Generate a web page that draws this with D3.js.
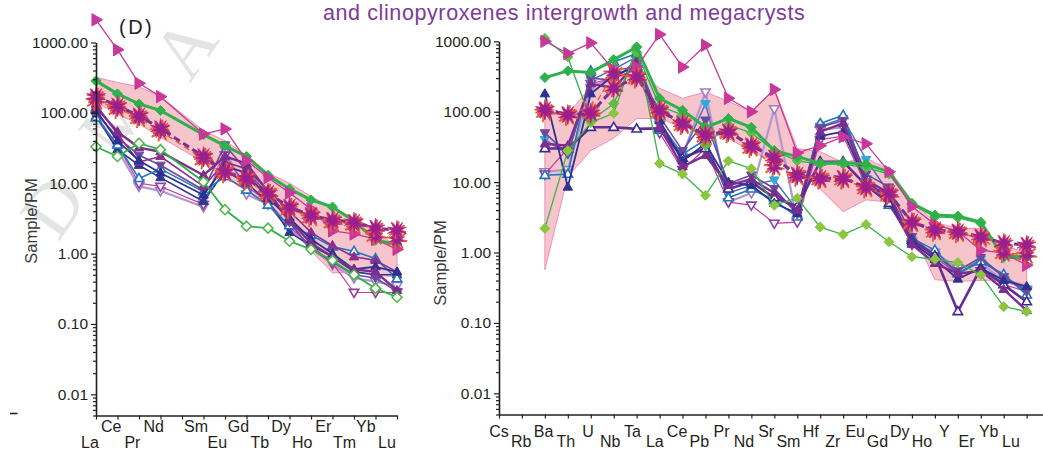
<!DOCTYPE html>
<html>
<head>
<meta charset="utf-8">
<script src="https://cdn.jsdelivr.net/npm/d3@7/dist/d3.min.js"></script>
<style>
  html, body { margin: 0; padding: 0; background: #fff; }
  svg { display: block; font-family: Arial, "Liberation Sans", sans-serif; }
</style>
</head>
<body>
<svg id="chart" width="1043" height="452"></svg>
<script>
// ---------- REE panel (primitive-mantle normalised) ----------
const reeElements = ["La","Ce","Pr","Nd","Sm","Eu","Gd","Tb","Dy","Ho","Er","Tm","Yb","Lu"];
const reeSlots    = [0, 1, 2, 3, 5, 6, 7, 8, 9, 10, 11, 12, 13, 14]; // slot 4 (Pm) left empty
const reeLabelRow = ["low","high","low","high","high","low","high","low","high","low","high","low","high","low"];

const reeMagentaTri   = [2100, 790, 263, 170, 50, 59, 21, 12, 7.3, 4.3, 2.1, 1.9, 1.6, 1.15];
const reeGreenThick   = [285, 186, 134, 108, 49, 34, 24, 13, 8.3, 5.8, 4.6, 2.9, 1.55, 1.36];
const reeGreenOpen    = [33, 24, 37, 30, 10.5, 4.2, 2.45, 2.3, 1.5, 1.15, 0.8, 0.5, 0.32, 0.24];
const reeStarPurple   = [170, 126, 91, 60, 24, 14.6, 11.7, 7.2, 4.6, 3.5, 3.0, 2.8, 2.3, 2.15];
const reeStarOrange   = [150, 115, 85, 55, 22, 14, 11, 7, 4.3, 3.3, 2.8, 2.6, 1.8, 1.6];
const reeBandUpper    = [320, 270, 235, 170, 56, 40, 25, 14, 10, 6.5, 4.5, 3.2, 2.2, 1.2];
const reeBandLower    = [140, 95, 70, 45, 20, 12, 8, 5, 2.4, 1.1, 0.53, 0.55, 0.5, 0.46];
const reeDarkBlue     = [110, 40, 21, 14, 6.8, 17.5, 14, 6.1, 3.2, 1.6, 1.0, 0.6, 0.65, 0.55];
const reeBlueOpen     = [85, 35, 11.7, 16, 7.6, 12.4, 8, 4.9, 2.5, 1.83, 1.25, 1.08, 0.85, 0.44];
const reePurpleFilled = [120, 54, 32, 28, 13, 24, 19, 7.6, 3.0, 1.4, 0.9, 0.6, 0.55, 0.3];
const reeLavenderDown = [95, 30, 9, 7.8, 4.6, 30, 7, 5, 2.2, 1.2, 0.7, 0.45, 0.4, 0.35];
const reeVioletDown   = [100, 45, 25, 18, 8, 35, 15, 7, 2.8, 1.17, 0.76, 0.5, 0.45, 0.29];
const reeNavy         = [90, 30, 18, 12, 5.5, 15, 10, 5.5, 2.0, 1.3, 0.9, 0.55, 0.5, 0.5];
const reePlum         = [130, 50, 20, 24, 9, 20, 16, 8, 4, 2, 1.3, 0.9, 0.8, 0.55];
const reeMagentaDown  = [90, 35, 10, 9, 5, 25, 9, 5.5, 2.4, 1.3, 0.73, 0.28, 0.28, 0.28];

// ---------- trace-element spider panel ----------
const spiderElements = ["Cs","Rb","Ba","Th","U","Nb","Ta","La","Ce","Pb","Pr","Nd","Sr","Sm","Hf","Zr","Eu","Gd","Dy","Ho","Y","Er","Yb","Lu"];

const spMagentaTri   = [null,null,1000, 670, 950, 390, 430, 1250, 430, 880, 155, 100, 207, 26, 33, 44, 35, 14, 4.5, 2.5, 2.0, 1.08, 0.98, 0.66];
const spGreenThick   = [null,null,305, 380, 360, 550, 830, 155, 105, 60, 80, 60, 28, 23, 18.5, 19, 18, 14, 5, 3.4, 3.3, 2.7, 0.85, 0.85];
const spGreenThin    = [null,null,1100, 600, 75, 130, 700, 120, 90, 33, 65, 50, 28, 20, 18, 18, 16, 13, 4.8, 3.2, 3.1, 2.6, 0.9, 0.9];
const spLightGreen   = [null,null,2.2, 28, 70, 95, 830, 18.4, 13, 6.5, 20, 15.5, 4.7, 5.9, 2.3, 1.8, 2.5, 1.42, 0.87, 0.8, 0.72, 0.48, 0.17, 0.145];
const spStarPurple   = [null,null,107, 91, 95, 215, 310, 105, 68, 47, 52, 33, 22, 12.6, 11.3, 11.3, 8.5, 6.9, 2.7, 2.1, 1.97, 1.67, 1.35, 1.28];
const spStarOrange   = [null,null,100, 88, 100, 350, 300, 100, 65, 45, 50, 31, 16.5, 12, 11, 11, 8.2, 6.6, 2.6, 2.0, 1.9, 1.6, 0.99, 0.93];
const spBandUpper    = [null,null,117, 93, 225, 310, 390, 215, 155, 190, 140, 100, 210, 30, 27, 19, 22, 15, 5.5, 2.7, 2.2, 2.2, 1.25, 1.0];
const spBandLower    = [null,null,0.57, 12, 28, 42, 80, 80, 60, 50, 42, 27, 20, 15, 8, 3.8, 5.6, 5.2, 2.1, 0.41, 0.39, 0.4, 0.41, 0.35];
const spDarkBlue     = [null,null,180, 8.5, 180, 330, 430, 75, 20, 35, 10, 9, 5, 3.6, 45, 52, 10, 6, 1.4, 0.8, 0.42, 0.6, 0.4, 0.33];
const spBlueOpen     = [null,null,12.5, 13, 380, 510, 670, 55, 25, 40, 6, 8, 5.5, 3.2, 68, 89, 12, 4.7, 1.6, 1.08, 0.5, 0.74, 0.49, 0.25];
const spPurpleFilled = [null,null,35, 33, 250, 214, 500, 60, 16.6, 24, 9, 11, 7, 4, 52, 68, 10.7, 7, 1.3, 0.7, 0.5, 0.55, 0.3, 0.15];
const spPurpleOpen   = [null,null,30, 30, 60, 60, 57, 58, 22, 30, 8, 10, 6, 4.5, 19.5, 19.5, 9, 5, 1.5, 0.9, 0.145, 0.6, 0.35, 0.2];
const spVioletDown   = [null,null,50, 25, 300, 280, 540, 85, 28, 76, 9.5, 12.6, 8.1, 3.5, 60, 75, 13, 8.5, 1.68, 0.9, 0.55, 0.85, 0.45, 0.28];
const spLavenderDown = [null,null,14, 15, 220, 300, 480, 65, 23, 190, 5.2, 7, 110, 2.8, 55, 60, 11, 6.5, 1.4, 1.0, 0.6, 0.7, 0.4, 0.3];
const spSkyDown      = [null,null,40, 25, 280, 400, 600, 70, 25, 130, 7, 9, 10.7, 4, 62, 80, 21, 7, 1.5, 0.95, 0.5, 0.8, 0.45, 0.3];
const spMagentaDown  = [null,null,13, 30, 250, 300, 400, 50, 15, 30, 5.2, 4.7, 2.6, 2.7, 40, 45, 9, 5, 1.3, 0.85, 0.5, 0.55, 0.35, 0.28];

const yTickValues = [0.01, 0.1, 1, 10, 100, 1000];
const watermarkLetters = ["D", "M", "A"];

// ---------- series appearance ----------
const C = {
  magenta: "#C8379A", green: "#2EB14B", lightGreen: "#8CC63F", purple: "#7B2E8E",
  star: "#9A1F8C", orange: "#F05A28", navy: "#2B3990", blue: "#1F76BC",
  lavender: "#B496CF", violet: "#6B4A9E", plum: "#8E2C8F", sky: "#29ABE2",
  bandFill: "#F6C4CB", bandStroke: "#EE90B6", axis: "#231F20", title: "#7E3A98"
};

function seriesList(p) {
  return [
    { v: p.lavender, color: C.lavender, width: 2.2, marker: "triDown", open: true, mcolor: "#9E7CC4" },
    { v: p.magentaDown, color: C.magenta, width: 1.2, marker: "triDown", open: true, mcolor: "#8E3FA6" },
    { v: p.sky, color: "#4B68B8", width: 1.4, marker: "triDown", open: false, mcolor: C.sky },
    { v: p.navy, color: C.navy, width: 1.6, marker: "triUp", open: false, mcolor: C.navy },
    { v: p.blueOpen, color: C.blue, width: 1.6, marker: "triUp", open: true, mcolor: C.blue },
    { v: p.violet, color: C.violet, width: 1.6, marker: "triDown", open: false, mcolor: C.violet },
    { v: p.plum, color: C.plum, width: 1.6, marker: "triUp", open: false, mcolor: C.plum },
    { v: p.purpleOpen, color: "#662D91", width: 2.6, marker: "triUp", open: true, mcolor: "#3B2C8F" },
    { v: p.darkBlue, color: "#2E3192", width: 1.8, marker: "triUp", open: false, mcolor: "#2E3192" },
    { v: p.purpleFilled, color: C.purple, width: 2.4, marker: "triUp", open: false, mcolor: C.purple },
    { v: p.lightGreen, color: "#37B44A", width: 1.3, marker: "diamond", open: false, mcolor: C.lightGreen, msize: 5 },
    { v: p.greenOpen, color: C.green, width: 1.8, marker: "diamond", open: true, mcolor: "#4DB848", msize: 5 },
    { v: p.greenThin, color: C.green, width: 1.3, marker: "diamond", open: false, mcolor: "#5DBB46", msize: 5 },
    { v: p.greenThick, color: C.green, width: 3, marker: "diamond", open: false, mcolor: C.green, msize: 5 },
    { v: p.magentaTri, color: C.magenta, width: 1.3, marker: "triRight", open: false, mcolor: C.magenta, msize: 6.5 },
    { v: p.starOrange, color: C.orange, width: 1.4, dash: "6,4", marker: "star", orange: true },
    { v: p.starPurple, color: C.purple, width: 3, dash: "7,4", marker: "star" }
  ].filter(s => s.v);
}

// ---------- marker shapes ----------
function markerPath(type, r) {
  switch (type) {
    case "triUp":    return `M0,${-r}L${r*0.95},${r*0.62}L${-r*0.95},${r*0.62}Z`;
    case "triDown":  return `M0,${r}L${r*0.95},${-r*0.62}L${-r*0.95},${-r*0.62}Z`;
    case "triRight": return `M${r},0L${-r*0.62},${-r*0.95}L${-r*0.62},${r*0.95}Z`;
    case "diamond":  return `M0,${-r}L${r},0L0,${r}L${-r},0Z`;
  }
  return "";
}
function starPath(n, ro, ri, rot) {
  let d = "";
  for (let k = 0; k < 2 * n; k++) {
    const r = k % 2 === 0 ? ro : ri;
    const a = rot + Math.PI * k / n;
    d += (k ? "L" : "M") + (r * Math.sin(a)).toFixed(2) + "," + (-r * Math.cos(a)).toFixed(2);
  }
  return d + "Z";
}

const svg = d3.select("#chart");

// faint diagonal watermark letters beneath everything
const wmCentres = [[52, 206], [114, 118], [184, 47]];
svg.append("g").attr("fill", "#E4E4E4")
  .attr("font-family", "'Liberation Serif', 'DejaVu Serif', serif").attr("font-size", 74)
  .selectAll("text").data(watermarkLetters).join("text")
  .attr("transform", (d, i) => `translate(${wmCentres[i][0]},${wmCentres[i][1]}) rotate(-55)`)
  .attr("text-anchor", "middle").attr("dy", "0.35em").text(d => d);

// ---------- generic panel ----------
function drawPanel(cfg) {
  const g = svg.append("g");
  const x = d3.scaleLinear().domain(cfg.xDomain).range(cfg.xRange);
  const y = d3.scaleLog().domain([0.005, 1000]).range(cfg.yRange);
  const slotX = i => x(cfg.slots[i]);

  // shaded envelope
  const band = [];
  cfg.bandUpper.forEach((v, i) => { if (v != null) band.push([slotX(i), y(v)]); });
  for (let i = cfg.bandLower.length - 1; i >= 0; i--) {
    const v = cfg.bandLower[i];
    if (v != null) band.push([slotX(i), y(v)]);
  }
  g.append("path").attr("d", d3.line()(band) + "Z")
    .attr("fill", C.bandFill).attr("stroke", C.bandStroke).attr("stroke-width", 1);

  // series lines + markers
  const line = d3.line().defined(d => d.v != null).x(d => d.x).y(d => y(d.v));
  cfg.series.forEach(s => {
    const pts = s.v.map((v, i) => ({ v, x: slotX(i) }));
    g.append("path").attr("d", line(pts)).attr("fill", "none")
      .attr("stroke", s.color).attr("stroke-width", s.width)
      .attr("stroke-linejoin", "round")
      .attr("stroke-dasharray", s.dash || null);
    const mk = g.append("g");
    pts.filter(p => p.v != null).forEach(p => {
      const t = `translate(${p.x},${y(p.v)})`;
      if (s.marker === "star") {
        const sg = mk.append("g").attr("transform", t);
        const spokes = s.orange ? 10.5 : 9;
        for (let k = 0; k < 8; k++) {
          const a = Math.PI * k / 4 + 0.2;
          sg.append("line").attr("x1", 0).attr("y1", 0)
            .attr("x2", spokes * Math.sin(a)).attr("y2", -spokes * Math.cos(a))
            .attr("stroke", C.orange).attr("stroke-width", 2);
        }
        sg.append("path").attr("d", starPath(10, s.orange ? 8 : 10, 4, 0))
          .attr("fill", C.star).attr("stroke", "#B0268F").attr("stroke-width", 0.6);
      } else {
        const r = s.msize || 5;
        mk.append("path").attr("transform", t).attr("d", markerPath(s.marker, r))
          .attr("fill", s.open ? "#fff" : s.mcolor)
          .attr("stroke", s.mcolor).attr("stroke-width", s.open ? 1.6 : 1);
      }
    });
  });

  // y axis: majors with labels, minors without
  const minor = [];
  for (let e = -3; e < 3; e++) for (let m = 1; m < 10; m++) {
    const v = m * Math.pow(10, e);
    if (v >= 0.005 && v <= 1000 && m !== 1) minor.push(v);
  }
  const yAxisG = g.append("g").attr("transform", `translate(${cfg.xRange[0]},0)`)
    .call(d3.axisLeft(y).tickValues(yTickValues).tickFormat(d3.format(".2f")).tickSize(5).tickSizeOuter(0).tickPadding(3));
  g.append("g").attr("transform", `translate(${cfg.xRange[0]},0)`)
    .call(d3.axisLeft(y).tickValues(minor).tickFormat("").tickSize(3).tickSizeOuter(0))
    .select(".domain").remove();
  yAxisG.selectAll("text").attr("font-size", 15.5).attr("fill", C.axis)
    .attr("font-family", "Arial, 'Liberation Sans', sans-serif");
  g.selectAll(".tick line").attr("stroke", C.axis).attr("stroke-width", 1.2);
  yAxisG.select(".domain").attr("stroke", C.axis).attr("stroke-width", 1.6);

  // x axis
  const xAxisG = g.append("g").attr("transform", `translate(0,${cfg.yRange[0]})`)
    .call(d3.axisBottom(x).tickValues(d3.range(cfg.xDomain[0], cfg.xDomain[1] + 1))
      .tickFormat("").tickSize(4).tickSizeOuter(0));
  xAxisG.select(".domain").attr("stroke", C.axis).attr("stroke-width", 1.6);
  xAxisG.selectAll(".tick line").attr("stroke", C.axis).attr("stroke-width", 1.2);

  const lx = d3.scaleLinear().domain(cfg.labelDomain).range(cfg.labelRange);
  g.append("g").selectAll("text").data(cfg.elements).join("text")
    .attr("x", (d, i) => lx(cfg.labelSlots[i]))
    .attr("y", (d, i) => cfg.rows[i] === "high" ? cfg.highY : cfg.lowY)
    .attr("text-anchor", "middle").attr("font-size", 16).attr("fill", C.axis)
    .text(d => d);

  // axis title
  g.append("text").attr("transform", `translate(${cfg.titleX},${cfg.titleY}) rotate(-90)`)
    .attr("text-anchor", "middle").attr("dy", "0.35em").attr("font-size", 16.5)
    .attr("fill", "#3A3A3A").text("Sample/PM");
}

drawPanel({
  elements: reeElements, slots: reeSlots, labelSlots: reeSlots, rows: reeLabelRow,
  xDomain: [0, 14], xRange: [96, 397], yRange: [415.5, 42.5],
  labelDomain: [0, 14], labelRange: [90, 387], highY: 431.5, lowY: 448,
  titleX: 31, titleY: 221,
  bandUpper: reeBandUpper, bandLower: reeBandLower,
  series: seriesList({
    lavender: reeLavenderDown, magentaDown: reeMagentaDown, navy: reeNavy,
    blueOpen: reeBlueOpen, violet: reeVioletDown, plum: reePlum,
    darkBlue: reeDarkBlue, purpleFilled: reePurpleFilled,
    greenOpen: reeGreenOpen, greenThick: reeGreenThick, magentaTri: reeMagentaTri,
    starOrange: reeStarOrange, starPurple: reeStarPurple
  })
});

const spSlots = d3.range(spiderElements.length);
drawPanel({
  elements: spiderElements, slots: spSlots, labelSlots: spSlots,
  rows: spSlots.map(i => i % 2 === 0 ? "high" : "low"),
  xDomain: [0, 24], xRange: [499, 1049.6], yRange: [414.5, 41.3],
  labelDomain: [0, 23], labelRange: [499, 1011], highY: 436.5, lowY: 446.7,
  titleX: 440, titleY: 263,
  bandUpper: spBandUpper, bandLower: spBandLower,
  series: seriesList({
    lavender: spLavenderDown, magentaDown: spMagentaDown, sky: spSkyDown, navy: null,
    blueOpen: spBlueOpen, violet: spVioletDown, purpleOpen: spPurpleOpen,
    darkBlue: spDarkBlue, purpleFilled: spPurpleFilled,
    lightGreen: spLightGreen, greenThin: spGreenThin, greenThick: spGreenThick,
    magentaTri: spMagentaTri, starOrange: spStarOrange, starPurple: spStarPurple
  })
});

// panel tag and heading
svg.append("text").attr("x", 119).attr("y", 33.5).attr("font-size", 20)
  .attr("letter-spacing", 2.5).attr("fill", "#231F20").text("(D)");
svg.append("text").attr("x", 323).attr("y", 19.6).attr("font-size", 21.5)
  .attr("letter-spacing", 0.6)
  .attr("fill", C.title).text("and clinopyroxenes intergrowth and megacrysts");

// stray rule at the lower left edge
svg.append("line").attr("x1", 10).attr("x2", 17.5).attr("y1", 413.5).attr("y2", 413.5)
  .attr("stroke", "#231F20").attr("stroke-width", 1.6);
</script>
</body>
</html>
